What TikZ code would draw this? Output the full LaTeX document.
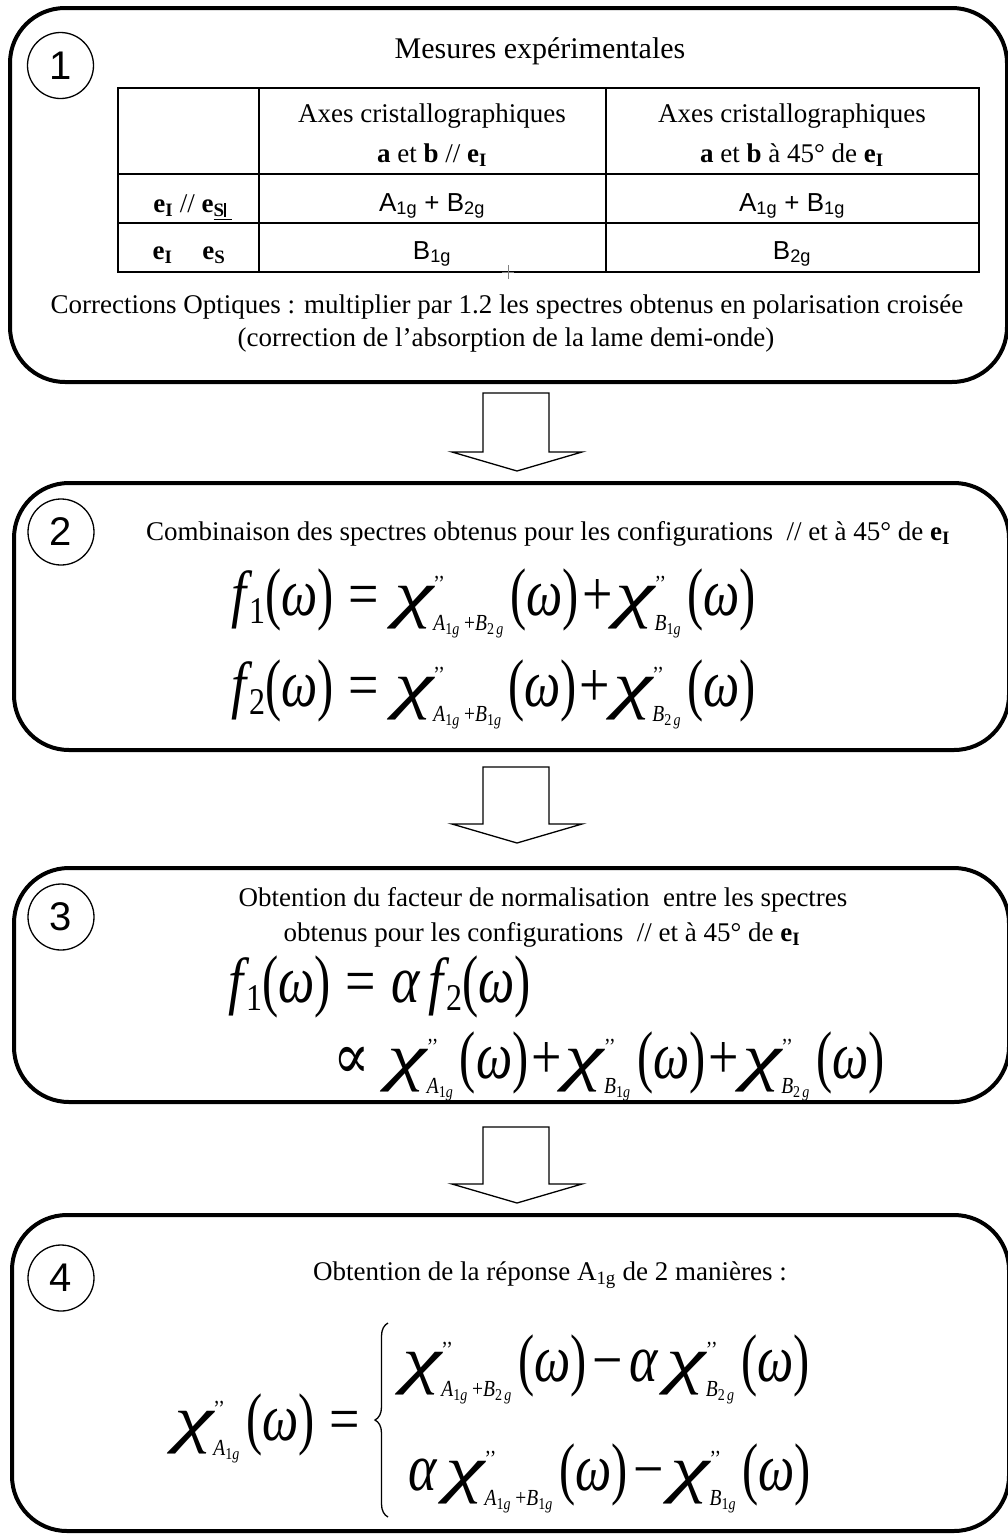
\RequirePackage{fix-cm}
\documentclass[tikz,border=0pt]{standalone}
\usepackage{fontspec}
\usepackage{amsmath}
\usepackage{graphicx}
\setmainfont{Liberation Serif}
\newfontfamily\tms{Liberation Serif}
\newfontfamily\arialf{Liberation Sans}
\newfontfamily\djs{DejaVu Serif}
\usetikzlibrary{decorations.pathreplacing}
\DeclareMathSizes{54}{54}{19.5}{14}

\newcommand\vi[1]{\text{\tms\itshape #1}}
\newcommand\vu[1]{\text{\tms\upshape #1}}
\newcommand\lpar{\mathopen{\text{\tms\upshape\raisebox{-0.03em}{\scalebox{0.9}[1.08]{(}}}}}
\newcommand\rpar{\mathclose{\text{\tms\upshape\raisebox{-0.03em}{\scalebox{0.9}[1.08]{)}}}}}
\newcommand\vchi{\text{\tms\itshape\scalebox{1.65}[1.0]{χ}}}
\newcommand\vom{\text{\tms\itshape\scalebox{0.95}[1.05]{ω}}}
\newcommand\val{\text{\tms\itshape\scalebox{1}[1.05]{α}}}
\newcommand\om{\lpar\vom\rpar}
\newcommand\chis[1]{\vchi^{\vu{’’}}_{#1}\mkern2mu}
\newcommand\Ag{\vi{A}_{\vu{1}\vi{g}}}
\newcommand\Bog{\vi{B}_{\vu{1}\vi{g}}}
\newcommand\Btg{\vi{B}_{\vu{2}\,\vi{g}}}
\newcommand\eqq{\mkern5mu\vu{=}\mkern5mu}
\newcommand\pl{\mkern1mu\vu{+}\mkern1mu}
\newcommand\spl{\mkern4mu\vu{+}}
\newcommand\mi{\mkern2mu\vu{−}\mkern2mu}
\newcommand\fsub[1]{\vi{f}\mkern1mu\text{\tms\upshape\fontsize{32}{32}\selectfont\raisebox{-0.22em}{#1}}}
\newcommand\eI{\textbf{e}\textsubscript{\textbf{I}}}
\newcommand\stretchm[1]{\scalebox{1}[1.18]{$#1$}}

\begin{document}
\begin{tikzpicture}[x=1pt,y=-1pt,
  bigbox/.style={draw, line width=4pt, rounded corners=55pt},
  num/.style={draw, circle, line width=1.3pt, minimum size=66pt, inner sep=0pt,
    font=\arialf\fontsize{40}{40}\selectfont},
  blockarrow/.style={draw, line width=1.3pt, line join=miter},
  tabline/.style={line width=2pt},
  ttl/.style={inner sep=0pt, font=\fontsize{30}{36}\selectfont},
  txt/.style={inner sep=0pt, font=\fontsize{27}{32}\selectfont},
  sans/.style={inner sep=0pt, font=\arialf\fontsize{26}{30}\selectfont},
  mth/.style={inner sep=0pt, font=\fontsize{54}{64}\selectfont},
  bracestyle/.style={line width=1.3pt, decorate, decoration={brace, amplitude=13pt}}]
\useasboundingbox (0,0) rectangle (1008,1535);
\fill[white] (0,0) rectangle (1008,1535);

% ---------- Box 1 ----------
\draw[bigbox] (10,8) rectangle (1007,382);
\node[num] (n1) at (60.5,65.5) {1};
\node[ttl, anchor=base] (title) at (540,58) {Mesures expérimentales};
\draw[tabline] (118,88) rectangle (979,272);
\draw[tabline] (259,88) -- (259,272);
\draw[tabline] (606,88) -- (606,272);
\draw[tabline] (118,174) -- (979,174);
\draw[tabline] (118,223) -- (979,223);
\node[txt, anchor=base] (h1a) at (432,122) {Axes cristallographiques};
\node[txt, anchor=base] (h1b) at (432,162) {\textbf{a} et \textbf{b} // \eI};
\node[txt, anchor=base] (h2a) at (792,122) {Axes cristallographiques};
\node[txt, anchor=base] (h2b) at (792,162) {\textbf{a} et \textbf{b} à 45° de \eI};
\node[txt, anchor=base] (r1) at (193,212) {\eI{} // \textbf{e}\textsubscript{\textbf{\underline{S\rule{1.5pt}{0.75em}\hspace{0.35em}}}}};
\node[txt, anchor=base] (r2) at (189,259) {\eI\hspace{1.1em}\textbf{e}\textsubscript{\textbf{S}}};
\node[sans, anchor=base] (c11) at (432,211) {A\textsubscript{1g} + B\textsubscript{2g}};
\node[sans, anchor=base] (c12) at (792,211) {A\textsubscript{1g} + B\textsubscript{1g}};
\node[sans, anchor=base] (c21) at (432,259) {B\textsubscript{1g}};
\node[sans, anchor=base] (c22) at (792,259) {B\textsubscript{2g}};
\draw[line width=0.8pt, gray] (502,272) -- (514,272) (508,265) -- (508,279);
\node[txt, anchor=base] (corr1) at (507,313) {Corrections Optiques : multiplier par 1.2 les spectres obtenus en polarisation croisée};
\node[txt, anchor=base] (corr2) at (506,346) {(correction de l’absorption de la lame demi-onde)};

% ---------- Arrow 1 ----------
\draw[blockarrow] (483,393) -- (549,393) -- (549,452) -- (582,452) -- (517,471) -- (452,452) -- (483,452) -- cycle;

% ---------- Box 2 ----------
\draw[bigbox] (14,483) rectangle (1009,750);
\node[num] (n2) at (61,532) {2};
\node[txt, anchor=base] (t2) at (548,540) {Combinaison des spectres obtenus pour les configurations\ \ // et à 45° de \eI};
\node[mth, anchor=base west] (f1) at (231,615) {\stretchm{\fsub{1}\om\eqq\chis{\Ag\spl\Btg}\om\pl\chis{\Bog}\om}};
\node[mth, anchor=base west] (f2) at (231,706) {\stretchm{\fsub{2}\om\eqq\chis{\Ag\spl\Bog}\om\pl\chis{\Btg}\om}};

% ---------- Arrow 2 ----------
\draw[blockarrow] (483,767) -- (549,767) -- (549,824) -- (582,824) -- (517,843) -- (452,824) -- (483,824) -- cycle;

% ---------- Box 3 ----------
\draw[bigbox] (14,868) rectangle (1009,1102);
\node[num] (n3) at (61,917) {3};
\node[txt, anchor=base] (t3a) at (543,906) {Obtention du facteur de normalisation\ \ entre les spectres};
\node[txt, anchor=base] (t3b) at (542,941) {obtenus pour les configurations\ \ // et à 45° de \eI};
\node[mth, anchor=base west] (f3) at (228,1002) {\stretchm{\fsub{1}\om\eqq\val\,\fsub{2}\om}};
\node[mth, anchor=base west] (f4) at (333,1078) {\stretchm{\text{\djs ∝}\mkern6mu\chis{\Ag}\om\pl\chis{\Bog}\om\pl\chis{\Btg}\om}};

% ---------- Arrow 3 ----------
\draw[blockarrow] (483,1127) -- (549,1127) -- (549,1184) -- (582,1184) -- (517,1203) -- (452,1184) -- (483,1184) -- cycle;

% ---------- Box 4 ----------
\draw[bigbox] (12,1215) rectangle (1009,1531);
\node[num] (n4) at (61,1278) {4};
\node[txt, anchor=base] (t4) at (550,1280) {Obtention de la réponse A\textsubscript{1g} de 2 manières :};
\node[mth, anchor=base west] (lhs) at (174,1440) {\stretchm{\chis{\Ag}\om\eqq}};
\coordinate (bb) at (388,1517);
\coordinate (bt) at (388,1323);
\draw[bracestyle] (bb) -- (bt);
\node[mth, anchor=base west] (case1) at (402,1381) {\stretchm{\chis{\Ag\spl\Btg}\om\mi\val\,\chis{\Btg}\om}};
\node[mth, anchor=base west] (case2) at (408,1490) {\stretchm{\val\,\chis{\Ag\spl\Bog}\om\mi\chis{\Bog}\om}};
\end{tikzpicture}
\end{document}
